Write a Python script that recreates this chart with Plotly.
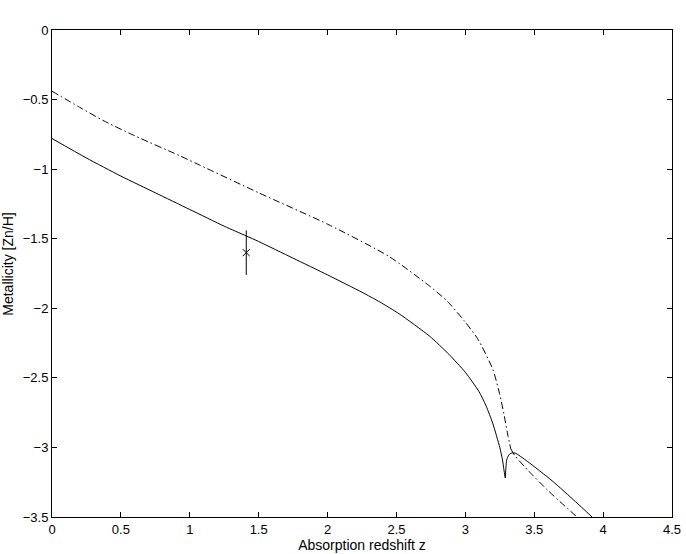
import plotly.graph_objects as go

# Solid model curve
z_solid = [0.0, 0.25, 0.5, 0.75, 1.0, 1.25, 1.41, 1.5, 1.75, 2.0, 2.25, 2.38, 2.52, 2.74,
           2.88, 3.0, 3.1, 3.15, 3.2, 3.25, 3.27, 3.28, 3.29]
m_solid = [-0.78, -0.92, -1.05, -1.17, -1.29, -1.41, -1.48, -1.52, -1.64, -1.76, -1.885, -1.955,
           -2.04, -2.20, -2.33, -2.46, -2.60, -2.70, -2.83, -3.0, -3.09, -3.16, -3.22]
# Solid branch after the cusp
z_solid2 = [3.29, 3.295, 3.30, 3.315, 3.33, 3.36, 3.45, 3.63, 3.8, 3.92]
m_solid2 = [-3.22, -3.14, -3.09, -3.055, -3.042, -3.04, -3.10, -3.24, -3.39, -3.50]

# Dash-dot model curve
z_dd = [0.0, 0.2, 0.37, 0.6, 0.93, 1.07, 1.5, 2.01, 2.45, 2.74, 2.87, 3.0, 3.09, 3.2,
        3.25, 3.28, 3.31, 3.33]
m_dd = [-0.44, -0.555, -0.65, -0.76, -0.905, -0.97, -1.17, -1.40, -1.63, -1.84, -1.95,
        -2.10, -2.22, -2.44, -2.62, -2.76, -2.92, -3.01]
z_dd2 = [3.33, 3.36, 3.46, 3.6, 3.81]
m_dd2 = [-3.01, -3.06, -3.17, -3.31, -3.50]

# Observed point
z_obs = [1.41]
m_obs = [-1.60]
m_err = [0.16]

x_ticks = [0, 0.5, 1, 1.5, 2, 2.5, 3, 3.5, 4, 4.5]
x_labels = ["0", "0.5", "1", "1.5", "2", "2.5", "3", "3.5", "4", "4.5"]
y_ticks = [0, -0.5, -1, -1.5, -2, -2.5, -3, -3.5]
y_labels = ["0", "\u22120.5", "\u22121", "\u22121.5", "\u22122", "\u22122.5", "\u22123", "\u22123.5"]

dd_style = dict(color="black", width=1, dash="7px,3px,1.5px,3px", shape="spline", smoothing=0.6)
solid_style = dict(color="black", width=1, shape="spline", smoothing=0.6)

fig = go.Figure()
fig.add_trace(go.Scatter(x=z_dd, y=m_dd, mode="lines", line=dd_style, showlegend=False))
fig.add_trace(go.Scatter(x=z_dd2, y=m_dd2, mode="lines", line=dd_style, showlegend=False))
fig.add_trace(go.Scatter(x=z_solid, y=m_solid, mode="lines", line=solid_style, showlegend=False))
fig.add_trace(go.Scatter(x=z_solid2, y=m_solid2, mode="lines", line=solid_style, showlegend=False))
fig.add_trace(go.Scatter(x=z_obs, y=m_obs, mode="markers",
                         marker=dict(symbol="x-thin", size=7, line=dict(color="black", width=1)),
                         error_y=dict(type="data", array=m_err, color="black", thickness=1, width=0),
                         showlegend=False))

font = "Liberation Sans, Arial, Helvetica, sans-serif"
fig.update_layout(
    width=686, height=554,
    margin=dict(l=52, r=14, t=30, b=37),
    paper_bgcolor="white", plot_bgcolor="white",
    font=dict(family=font, size=13, color="black"),
    xaxis=dict(range=[0, 4.5], tickvals=x_ticks, ticktext=x_labels, automargin=False,
               ticks="inside", ticklen=5, tickcolor="black",
               showline=True, linecolor="black", linewidth=1, mirror="ticks",
               showgrid=False, zeroline=False,
               title=dict(text="Absorption redshift z", standoff=0, font=dict(size=14))),
    yaxis=dict(range=[-3.5, 0], tickvals=y_ticks, ticktext=y_labels, automargin=False,
               ticks="inside", ticklen=5, tickcolor="black",
               showline=True, linecolor="black", linewidth=1, mirror="ticks",
               showgrid=False, zeroline=False),
    annotations=[dict(text="Metallicity [Zn/H]", textangle=-90, showarrow=False,
                      xref="paper", yref="paper", x=-0.071, y=0.52,
                      xanchor="center", yanchor="middle", font=dict(size=14))],
)

fig.write_html("out.html", config={"displayModeBar": False},
               post_script="document.body.style.margin='0';document.body.style.padding='0';")
